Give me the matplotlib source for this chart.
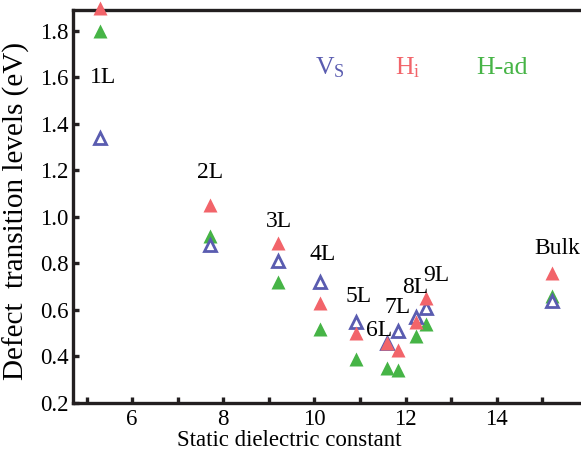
import matplotlib
matplotlib.use("Agg")
import matplotlib.pyplot as plt
from matplotlib.ticker import MultipleLocator

plt.rcParams["font.family"] = ["Liberation Serif", "DejaVu Serif"]
plt.rcParams["mathtext.fontset"] = "custom"
plt.rcParams["mathtext.rm"] = "Liberation Serif"

# dielectric constant for each thickness
layers   = ["1L", "2L", "3L", "4L", "5L", "6L", "7L", "8L", "9L", "Bulk"]
eps      = [5.3, 7.7, 9.2, 10.13, 10.92, 11.6, 11.83, 12.22, 12.45, 15.22]
vs_lvl   = [1.34, 0.88, 0.81, 0.72, 0.55, 0.46, 0.51, 0.57, 0.61, 0.64]
hi_lvl   = [1.90, 1.05, 0.89, 0.63, 0.50, 0.46, 0.43, 0.55, 0.65, 0.76]
had_lvl  = [1.80, 0.92, 0.72, 0.52, 0.39, 0.35, 0.34, 0.49, 0.54, 0.66]

# where the layer labels sit (data coords)
lab_x = [5.36, 7.71, 9.23, 10.18, 10.97, 11.41, 11.82, 12.22, 12.68, 15.32]
lab_y = [1.60, 1.19, 0.98, 0.84, 0.66, 0.51, 0.61, 0.695, 0.75, 0.865]

BLUE  = "#5a5cb0"
RED   = "#f2646a"
GREEN = "#46b446"

fig = plt.figure(figsize=(5.81, 4.58), dpi=100)
ax = fig.add_axes([73/581, 55/458, 514/581, 393/458])

ax.plot(eps, had_lvl, "^", color=GREEN, ms=10, mec="none", clip_on=False, zorder=3)
ax.plot(eps, vs_lvl, "^", color=BLUE, ms=8.6, mfc="white", mec=BLUE, mew=2.0,
        clip_on=False, zorder=4)
ax.plot(eps, hi_lvl, "^", color=RED, ms=10, mec="none", clip_on=False, zorder=5)

for name, x, y in zip(layers, lab_x, lab_y):
    ax.text(x, y, name, ha="center", va="center", fontsize=17, zorder=6)

ax.text(0.50, 0.852, r"$\mathrm{V_S}$", color=BLUE, fontsize=18.5,
        transform=ax.transAxes, ha="center", va="center")
ax.text(0.652, 0.852, r"$\mathrm{H_i}$", color=RED, fontsize=18.5,
        transform=ax.transAxes, ha="center", va="center")
ax.text(0.835, 0.852, "H-ad", color=GREEN, fontsize=18.5,
        transform=ax.transAxes, ha="center", va="center")

ax.set_xlim(4.703, 15.98)
ax.set_ylim(0.2, 1.89)
ax.xaxis.set_major_locator(MultipleLocator(2))
ax.xaxis.set_minor_locator(MultipleLocator(1))
ax.yaxis.set_major_locator(MultipleLocator(0.2))
ax.yaxis.set_major_formatter(plt.FuncFormatter(lambda v, p: f"{v:.1f}"))

for s in ax.spines.values():
    s.set_linewidth(2.4)
    s.set_color("#231f20")
ax.tick_params(which="both", direction="in", length=4, width=2.4,
               labelsize=16.5, color="#231f20", pad=3)
ax.tick_params(axis="x", pad=4)

ax.set_xlabel("Static dielectric constant", fontsize=16.5)
ax.xaxis.set_label_coords(0.42, -0.068)
ax.set_ylabel("Defect  transition levels (eV)", fontsize=21)
ax.yaxis.set_label_coords(-0.084, 0.489)

fig.savefig("out.png", dpi=100)
